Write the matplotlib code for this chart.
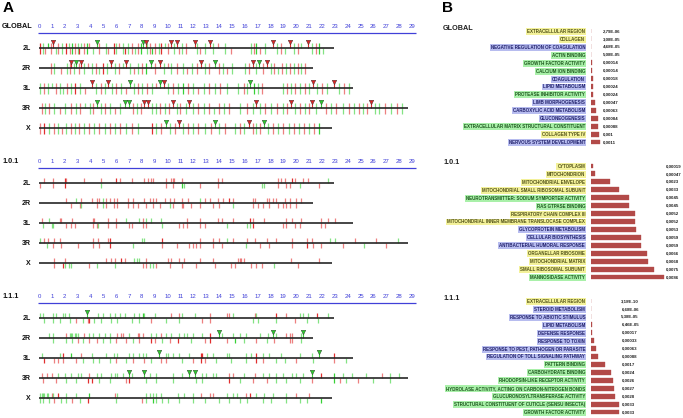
import matplotlib
matplotlib.use('Agg')
import matplotlib.pyplot as plt
from matplotlib.transforms import offset_copy

plt.rcParams['font.family'] = ['Liberation Sans', 'DejaVu Sans']

# ---------------- data ----------------
chromosomes = ['2L', '2R', '3L', '3R', 'X']
chrom_len = [22.9, 21.3, 24.4, 28.7, 22.8]
ruler_ticks = list(range(30))
block_names = ['GLOBAL', '1.0.1', '1.1.1']

# marks: (position Mb, code) ; code[0]: r/R red light/dark, g/G green light/dark
# code[1]: '+' above, '-' below, '|' both, 'v' significant cluster flag
G_2L = [(0.1,'R|'),(0.3,'g|'),(0.5,'r-'),(0.7,'G+'),(0.9,'r|'),(1.1,'Rv'),(1.3,'g-'),(1.5,'r|'),(1.8,'g|'),(2.1,'R|'),(2.3,'g+'),(2.4,'r-'),(2.6,'G|'),(2.8,'r|'),(3.0,'g|'),(3.1,'R-'),(3.3,'g+'),(3.5,'r|'),(3.7,'G|'),(3.9,'r+'),(4.2,'g-'),(4.5,'Gv'),(4.7,'r|'),(5.2,'g|'),(5.4,'r-'),(5.8,'R|'),(6.0,'g|'),(6.2,'r+'),(6.5,'g|'),(6.7,'R-'),(6.9,'g|'),(7.2,'r|'),(7.5,'g-'),(7.7,'r|'),(7.9,'G|'),(8.1,'Gv'),(8.3,'Rv'),(8.4,'g|'),(8.6,'r|'),(8.8,'G-'),(9.0,'r|'),(9.3,'g|'),(9.5,'R|'),(9.8,'g+'),(10.0,'r|'),(10.3,'Rv'),(10.5,'g|'),(10.7,'Rv'),(10.9,'r-'),(11.1,'g|'),(11.4,'r|'),(12.1,'Rv'),(12.3,'g|'),(12.5,'r-'),(12.9,'g|'),(13.3,'Rv'),(13.5,'g|'),(13.9,'r+'),(14.5,'g|'),(14.9,'r-'),(16.5,'g|'),(16.7,'r|'),(16.9,'G|'),(17.2,'r-'),(17.6,'g|'),(18.2,'Rv'),(18.5,'g|'),(18.8,'r|'),(19.1,'g-'),(19.5,'Rv'),(19.8,'g|'),(20.1,'r|'),(20.4,'g+'),(20.9,'Rv'),(21.2,'g|'),(21.5,'r|'),(21.8,'G|'),(22.1,'g-')]
G_2R = [(0.9,'r|'),(1.2,'g|'),(1.7,'r-'),(2.2,'g|'),(2.4,'r|'),(2.5,'Rv'),(2.7,'g|'),(2.9,'Gv'),(3.1,'r|'),(3.3,'Rv'),(3.5,'g|'),(3.8,'r+'),(4.1,'g|'),(4.4,'r|'),(4.7,'g-'),(5.0,'R|'),(5.3,'g|'),(5.6,'Rv'),(5.9,'g|'),(6.2,'r|'),(6.5,'g+'),(6.8,'Rv'),(7.1,'g|'),(7.4,'r-'),(7.7,'g|'),(8.0,'r|'),(8.3,'G|'),(8.7,'Gv'),(9.0,'r|'),(9.4,'Rv'),(9.7,'g|'),(10.0,'r+'),(10.3,'g|'),(10.7,'r|'),(11.2,'g|'),(11.5,'r-'),(11.9,'g|'),(12.3,'r|'),(12.6,'Rv'),(12.9,'g|'),(13.2,'r|'),(13.7,'Gv'),(14.0,'r|'),(14.3,'g|'),(14.6,'r-'),(15.0,'g|'),(16.0,'g|'),(16.3,'r|'),(16.6,'Rv'),(16.9,'g|'),(17.1,'Gv'),(17.4,'r|'),(17.7,'Rv'),(18.0,'g|'),(18.3,'r|'),(18.6,'g-'),(18.9,'r|'),(19.2,'g|'),(19.5,'r|'),(19.8,'g|'),(20.1,'r|'),(20.4,'g|'),(20.7,'r|')]
G_3L = [(0.1,'g|'),(0.4,'r|'),(0.7,'g|'),(1.0,'g+'),(1.3,'r|'),(1.6,'g|'),(1.9,'g-'),(2.2,'r|'),(2.5,'g|'),(2.8,'R|'),(3.2,'g|'),(3.6,'r-'),(4.1,'Rv'),(4.4,'g|'),(4.8,'r|'),(5.1,'g|'),(5.4,'Rv'),(5.7,'g|'),(6.0,'r|'),(6.4,'g|'),(6.8,'r-'),(7.1,'Gv'),(7.4,'g|'),(7.7,'r|'),(8.0,'g|'),(8.4,'r|'),(8.8,'g|'),(9.1,'r+'),(9.4,'Gv'),(9.7,'Rv'),(10.0,'g|'),(10.4,'r|'),(10.8,'g|'),(11.2,'G|'),(11.6,'r|'),(12.0,'g|'),(12.4,'r-'),(12.8,'g|'),(13.2,'r|'),(13.7,'g|'),(14.1,'r|'),(14.6,'g|'),(15.5,'g|'),(15.9,'r|'),(16.2,'g|'),(16.4,'Gv'),(16.7,'G|'),(17.0,'g|'),(17.3,'r|'),(19.0,'g|'),(19.3,'r|'),(19.6,'g|'),(19.9,'r|'),(20.3,'g|'),(20.7,'r|'),(21.0,'g|'),(21.3,'Rv'),(21.6,'g|'),(22.0,'r|'),(22.4,'g|'),(22.9,'Rv'),(23.3,'g|'),(23.7,'r|'),(24.1,'g|')]
G_3R = [(0.2,'r|'),(0.5,'g|'),(0.8,'r|'),(1.2,'g|'),(1.6,'r-'),(2.0,'g|'),(2.5,'r|'),(2.9,'g|'),(3.2,'r|'),(3.6,'g+'),(4.0,'g|'),(4.2,'r|'),(4.5,'Gv'),(4.8,'g|'),(5.1,'r|'),(5.5,'g|'),(5.9,'r-'),(6.3,'g|'),(6.7,'Gv'),(7.0,'Gv'),(7.3,'r|'),(7.6,'g|'),(7.9,'r|'),(8.2,'Rv'),(8.5,'Rv'),(8.8,'g|'),(9.1,'g|'),(9.4,'r|'),(9.8,'g|'),(10.1,'r|'),(10.4,'Rv'),(10.7,'g|'),(11.0,'r|'),(11.4,'g|'),(11.7,'Rv'),(12.0,'g|'),(12.4,'r|'),(12.8,'g|'),(13.2,'r|'),(13.6,'g-'),(14.0,'r|'),(14.4,'g|'),(14.8,'r|'),(15.6,'g|'),(16.2,'r|'),(16.6,'g|'),(16.9,'Rv'),(17.2,'g|'),(17.6,'r|'),(18.0,'g|'),(18.5,'r|'),(19.0,'g|'),(19.3,'r|'),(19.6,'Rv'),(19.9,'g|'),(20.3,'r|'),(20.7,'g|'),(21.0,'r|'),(21.2,'Rv'),(21.5,'g|'),(21.9,'Gv'),(22.3,'r|'),(22.7,'g|'),(23.1,'r|'),(23.6,'g|'),(24.1,'r|'),(24.5,'g|'),(24.9,'r|'),(25.2,'g|'),(25.5,'r|'),(25.8,'Rv'),(26.1,'g|'),(26.4,'g|'),(26.9,'r|'),(27.4,'g|'),(27.8,'r|'),(28.2,'g|')]
G_X = [(0.1,'r|'),(0.4,'R|'),(0.8,'g|'),(1.2,'r|'),(1.5,'g|'),(1.8,'r-'),(2.1,'g|'),(2.5,'r|'),(2.8,'g|'),(3.1,'r|'),(3.5,'g|'),(3.9,'r|'),(4.3,'g|'),(4.7,'r|'),(5.1,'g|'),(5.5,'r|'),(5.9,'g|'),(6.3,'r|'),(6.8,'g|'),(7.2,'r|'),(7.7,'g|'),(8.8,'R|'),(9.1,'g|'),(9.5,'r|'),(9.9,'Gv'),(10.2,'g|'),(10.6,'r|'),(10.9,'Rv'),(11.2,'g|'),(11.6,'r|'),(12.0,'g|'),(12.4,'r|'),(12.9,'g|'),(13.4,'r|'),(13.7,'Gv'),(14.0,'g|'),(14.5,'r|'),(15.2,'g|'),(15.6,'r|'),(15.9,'g|'),(16.3,'Rv'),(16.6,'r|'),(16.9,'g|'),(17.2,'r|'),(17.5,'Gv'),(17.8,'g|'),(18.2,'r|'),(18.6,'g|'),(19.0,'r|'),(19.4,'g|'),(19.8,'r|'),(20.2,'g|'),(20.6,'r|'),(21.0,'g|'),(21.4,'r|'),(21.8,'G|')]

O_2L = [(0.1,'r-'),(0.4,'r+'),(1.1,'r|'),(2.0,'R|'),(2.1,'r+'),(3.5,'r+'),(4.8,'r+'),(4.8,'g-'),(6.0,'R+'),(6.3,'r+'),(7.2,'r+'),(8.2,'r+'),(8.5,'r+'),(8.7,'r+'),(8.9,'r+'),(9.9,'r|'),(10.3,'r+'),(10.4,'r|'),(10.5,'r+'),(11.1,'r+'),(11.1,'G-'),(11.3,'g-'),(12.5,'r-'),(13.9,'r|'),(14.2,'r+'),(17.3,'g-'),(17.5,'g-'),(18.6,'r|'),(18.8,'r+'),(19.1,'r+'),(19.2,'r-'),(19.5,'r-'),(19.7,'R+'),(19.9,'r+'),(20.3,'g-'),(20.5,'r+'),(20.9,'r+'),(21.8,'r-'),(22.5,'g+')]
O_2R = [(2.1,'r+'),(2.5,'r-'),(2.9,'g+'),(3.2,'r-'),(3.3,'r+'),(3.3,'g-'),(4.1,'r+'),(4.5,'r|'),(4.7,'r+'),(5.0,'g|'),(5.2,'r|'),(5.5,'r+'),(5.8,'r|'),(6.1,'r|'),(6.9,'r|'),(7.3,'r|'),(7.7,'r-'),(8.2,'r+'),(8.3,'r-'),(8.6,'r+'),(8.9,'r|'),(9.1,'r+'),(9.4,'r-'),(9.8,'r+'),(10.2,'r+'),(10.2,'g-'),(10.4,'r-'),(10.5,'r+'),(11.1,'r|'),(11.2,'r-'),(11.6,'r+'),(11.8,'r-'),(12.5,'g+'),(12.5,'r-'),(12.9,'r+'),(13.3,'r+'),(13.5,'r-'),(13.9,'r+'),(14.0,'r-'),(14.3,'r+'),(14.8,'R+'),(15.1,'r+'),(15.1,'g-'),(16.6,'r|'),(16.8,'r+'),(17.0,'r-'),(17.4,'r-'),(17.7,'r+'),(17.9,'r|'),(18.2,'r+'),(18.4,'r+'),(18.6,'r-'),(19.0,'r-'),(19.1,'r+'),(19.2,'r-'),(19.5,'r|'),(20.0,'r|'),(20.4,'r+')]
O_3L = [(0.2,'r+'),(0.3,'g-'),(0.8,'g+'),(1.0,'g-'),(1.1,'g-'),(1.6,'r+'),(1.7,'r+'),(2.1,'r-'),(2.5,'r-'),(2.6,'r+'),(2.8,'r-'),(4.2,'r|'),(4.3,'r+'),(4.5,'r-'),(4.6,'g-'),(5.4,'r|'),(6.0,'r|'),(6.8,'g+'),(7.0,'r-'),(7.2,'r-'),(7.8,'g+'),(8.1,'r|'),(8.3,'g+'),(8.3,'r-'),(8.7,'g+'),(9.5,'g+'),(9.6,'g-'),(10.9,'r-'),(11.2,'r-'),(11.5,'r|'),(12.5,'r|'),(12.9,'r-'),(13.9,'r+'),(14.2,'r+'),(14.6,'g-'),(15.1,'r+'),(16.2,'g-'),(16.4,'R+'),(16.4,'g-'),(16.6,'R-'),(16.6,'r+'),(17.5,'r+'),(19.0,'r-'),(19.2,'r|'),(19.7,'r+'),(19.9,'r-'),(20.3,'r-'),(20.4,'r+'),(21.9,'r|'),(22.2,'r-'),(22.5,'r+'),(23.0,'r+')]
O_3R = [(0.05,'g+'),(0.4,'r+'),(0.6,'g-'),(0.7,'r+'),(1.1,'r-'),(1.2,'r+'),(1.6,'r+'),(1.7,'r-'),(3.0,'r-'),(4.2,'r|'),(4.6,'r+'),(4.7,'r-'),(5.4,'r+'),(5.5,'R|'),(7.3,'g-'),(8.0,'g+'),(8.2,'g+'),(9.6,'R+'),(9.6,'r-'),(10.7,'r-'),(11.7,'r-'),(12.0,'r-'),(12.2,'r-'),(12.5,'r|'),(13.5,'r|'),(14.0,'r+'),(14.2,'r-'),(14.6,'g+'),(15.1,'r+'),(16.1,'g-'),(16.2,'r+'),(16.8,'r+'),(17.2,'r-'),(17.7,'r+'),(17.9,'r-'),(18.4,'r+'),(19.7,'r|'),(20.8,'r+'),(20.8,'R-'),(21.2,'r+'),(21.3,'r-'),(21.9,'r-'),(22.6,'g+'),(23.0,'g+'),(23.6,'r-'),(24.6,'r+'),(25.3,'g-'),(26.2,'r+'),(27.0,'r-'),(27.9,'g+')]
O_X = [(1.2,'r|'),(1.9,'R-'),(2.0,'r+'),(2.0,'g-'),(2.3,'g-'),(2.5,'g-'),(3.9,'r-'),(4.5,'g-'),(5.2,'r+'),(5.6,'r+'),(5.9,'r+'),(5.9,'g-'),(6.4,'R+'),(6.7,'r+'),(7.4,'g+'),(7.6,'g+'),(7.8,'g+'),(8.1,'r-'),(8.3,'r|'),(8.6,'g-'),(8.9,'g-'),(9.1,'r-'),(10.0,'r+'),(10.2,'r-'),(10.3,'r+'),(10.9,'r+'),(11.1,'r-'),(11.3,'r+'),(12.2,'r-'),(12.5,'r+'),(13.5,'r+'),(13.7,'r-'),(14.9,'r-'),(15.2,'r-'),(15.5,'r+'),(15.6,'r+'),(15.7,'r+'),(15.9,'r+'),(16.5,'r-'),(16.9,'r-'),(17.3,'r-'),(18.3,'g-'),(19.6,'r+'),(20.1,'r-'),(21.8,'r+')]

T_2L = [(0.05,'g+'),(0.3,'g+'),(0.4,'g-'),(1.1,'g|'),(1.3,'g+'),(1.6,'g-'),(1.9,'g+'),(2.0,'g+'),(2.3,'g+'),(2.4,'g-'),(2.9,'r-'),(3.4,'g-'),(3.7,'Gv'),(3.8,'r-'),(3.9,'R-'),(4.3,'g-'),(4.6,'g+'),(4.8,'g-'),(5.0,'g+'),(5.5,'g+'),(5.6,'g-'),(5.9,'g+'),(6.1,'g-'),(6.3,'g+'),(6.7,'g+'),(7.2,'g-'),(7.4,'g+'),(7.8,'g|'),(8.1,'G+'),(8.2,'g+'),(8.7,'r-'),(9.0,'g+'),(9.9,'g-'),(10.3,'r+'),(10.9,'r+'),(10.9,'g-'),(11.1,'g+'),(12.1,'g+'),(12.7,'r-'),(13.3,'r|'),(14.6,'r+'),(14.8,'r+'),(15.1,'g+'),(16.6,'g-'),(16.8,'r+'),(16.9,'g+'),(17.0,'g-'),(18.4,'R+'),(18.4,'g-'),(19.2,'r+'),(19.9,'r-'),(20.3,'g+'),(20.5,'g+'),(20.8,'g-'),(20.9,'g+'),(21.6,'R+'),(21.7,'g-'),(22.5,'g+')]
T_2R = [(0.8,'g+'),(1.1,'g|'),(2.1,'r+'),(2.1,'g-'),(2.4,'g+'),(2.5,'g+'),(2.6,'g|'),(2.8,'g+'),(2.9,'g+'),(3.0,'g+'),(3.0,'r-'),(3.4,'g-'),(3.5,'r+'),(3.9,'g+'),(3.9,'r-'),(4.2,'g+'),(4.5,'r-'),(4.7,'g+'),(5.0,'g-'),(5.1,'g+'),(5.5,'g|'),(6.0,'r-'),(6.1,'r+'),(6.4,'r+'),(6.5,'r+'),(6.8,'r-'),(7.0,'g+'),(7.3,'g-'),(7.7,'r+'),(7.8,'r|'),(8.1,'r+'),(8.7,'g+'),(8.7,'R-'),(9.0,'r-'),(9.1,'g+'),(9.5,'r+'),(9.6,'g-'),(9.9,'g+'),(10.2,'r-'),(10.3,'g+'),(10.8,'R-'),(10.9,'g+'),(11.3,'g+'),(11.5,'g+'),(11.8,'g-'),(12.0,'g+'),(12.7,'g+'),(12.9,'r-'),(13.3,'R|'),(14.0,'Gv'),(14.2,'g+'),(14.6,'r-'),(15.1,'g+'),(15.2,'G-'),(15.6,'g+'),(15.9,'g-'),(16.1,'g+'),(16.9,'r-'),(17.2,'g+'),(17.7,'g-'),(17.8,'g+'),(18.2,'Gv'),(18.3,'r-'),(18.4,'g+'),(19.2,'r+'),(19.5,'r|'),(19.7,'r|'),(20.4,'g|'),(20.5,'Gv')]
T_3L = [(0.2,'g+'),(0.4,'R-'),(1.2,'r-'),(1.5,'r-'),(1.6,'g+'),(1.9,'R+'),(1.9,'r-'),(2.5,'G+'),(2.9,'r-'),(3.3,'r+'),(3.4,'g-'),(4.1,'g+'),(4.2,'g-'),(4.7,'g-'),(5.2,'g+'),(5.5,'g-'),(5.8,'g+'),(6.0,'r-'),(6.1,'g+'),(6.8,'g-'),(7.0,'g+'),(7.3,'g+'),(7.3,'r-'),(7.8,'g+'),(8.1,'g+'),(8.2,'r-'),(8.3,'g+'),(8.7,'g-'),(9.3,'Gv'),(9.5,'r-'),(9.9,'g+'),(9.9,'r-'),(10.0,'g+'),(10.4,'g+'),(10.9,'g+'),(11.1,'g-'),(11.7,'g+'),(12.0,'r-'),(12.6,'R|'),(12.7,'R+'),(12.9,'r-'),(13.1,'g+'),(13.5,'g+'),(13.8,'g-'),(14.6,'g+'),(14.8,'g+'),(14.9,'g-'),(16.1,'g|'),(16.5,'g+'),(16.9,'R|'),(17.4,'g+'),(17.4,'r-'),(17.9,'g+'),(18.4,'g-'),(18.8,'g+'),(19.1,'g-'),(20.0,'r-'),(20.3,'g+'),(21.2,'g+'),(21.3,'g-'),(21.8,'Gv'),(22.9,'R+'),(22.9,'r-'),(23.9,'g-')]
T_3R = [(0.2,'r+'),(0.3,'r-'),(0.6,'r+'),(1.0,'r+'),(1.3,'r-'),(1.5,'g+'),(2.0,'g+'),(2.1,'g-'),(2.5,'g+'),(2.9,'g-'),(3.0,'g+'),(3.3,'g+'),(3.8,'R-'),(3.9,'r+'),(4.1,'R-'),(4.5,'g+'),(4.7,'g-'),(4.8,'g+'),(5.5,'g-'),(5.6,'g+'),(5.9,'g+'),(6.1,'g+'),(6.5,'g+'),(6.8,'r-'),(7.0,'Gv'),(7.0,'R-'),(7.2,'g+'),(8.2,'Gv'),(8.3,'g-'),(8.6,'g+'),(9.1,'g|'),(10.4,'g|'),(11.1,'g+'),(11.7,'Gv'),(12.1,'Gv'),(12.2,'g-'),(12.7,'g|'),(13.0,'g+'),(13.5,'g+'),(13.8,'g+'),(14.8,'r+'),(14.8,'R-'),(15.1,'r+'),(15.6,'g-'),(15.9,'g+'),(16.6,'r-'),(16.8,'r+'),(17.4,'g+'),(17.7,'r-'),(17.9,'g+'),(18.4,'g|'),(19.0,'g+'),(19.2,'g-'),(19.7,'g+'),(20.0,'g+'),(20.3,'g-'),(20.5,'g+'),(21.2,'Gv'),(21.2,'r-'),(21.9,'R+'),(22.9,'G|'),(23.4,'r-'),(23.6,'g+'),(23.9,'g-'),(24.3,'g+'),(24.8,'r-'),(25.4,'g+'),(26.0,'g-'),(26.7,'r+'),(27.3,'g|'),(28.0,'g+')]
T_X = [(0.05,'g|'),(0.2,'g+'),(0.3,'g|'),(0.4,'g+'),(0.6,'g+'),(0.7,'g+'),(0.8,'g-'),(1.0,'r+'),(1.1,'g+'),(1.2,'r-'),(1.5,'R+'),(1.7,'g-'),(2.1,'g|'),(2.6,'r-'),(2.9,'g+'),(3.2,'g-'),(3.8,'R-'),(3.9,'G+'),(5.9,'r+'),(6.0,'g-'),(6.1,'g+'),(8.0,'r-'),(8.3,'g|'),(8.6,'g+'),(8.9,'g+'),(8.9,'G-'),(9.1,'g|'),(9.5,'g+'),(9.6,'g-'),(10.0,'g-'),(10.8,'g+'),(10.9,'g-'),(11.3,'g+'),(12.0,'g|'),(12.6,'r+'),(12.9,'g-'),(13.3,'r+'),(13.5,'r+'),(14.0,'g-'),(14.6,'g+'),(14.8,'g-'),(15.1,'g+'),(15.4,'g+'),(15.6,'g-'),(16.1,'r+'),(16.2,'g-'),(16.4,'R+'),(16.9,'g+'),(17.4,'g-'),(17.5,'g+'),(18.0,'g-'),(18.2,'g+'),(19.2,'g|'),(20.0,'r+'),(20.3,'g-'),(20.8,'g-'),(21.0,'r+'),(21.9,'G-')]

global_tracks = [G_2L, G_2R, G_3L, G_3R, G_X]
c101_tracks = [O_2L, O_2R, O_3L, O_3R, O_X]
c111_tracks = [T_2L, T_2R, T_3L, T_3R, T_X]

# GO enrichment (panel B); categories: C = component, P = process, F = function
go_global_terms = ['EXTRACELLULAR REGION', 'COLLAGEN', 'NEGATIVE REGULATION OF COAGULATION', 'ACTIN BINDING',
                   'GROWTH FACTOR ACTIVITY', 'CALCIUM ION BINDING', 'COAGULATION', 'LIPID METABOLISM',
                   'PROTEASE INHIBITOR ACTIVITY', 'LIMB MORPHOGENESIS', 'CARBOXYLIC ACID METABOLISM',
                   'GLUCONEOGENESIS', 'EXTRACELLULAR MATRIX STRUCTURAL CONSTITUENT', 'COLLAGEN TYPE IV',
                   'NERVOUS SYSTEM DEVELOPMENT']
go_global_cat = ['C', 'C', 'P', 'F', 'F', 'F', 'P', 'P', 'F', 'P', 'P', 'P', 'F', 'C', 'P']
go_global_p = [2.79e-06, 3.08e-05, 4.68e-05, 5.08e-05, 0.00014, 0.00014, 0.00018, 0.00024, 0.00024,
               0.00047, 0.00063, 0.00084, 0.00088, 0.001, 0.0011]
go_global_txt = ['2,79E-06', '3,08E-05', '4,68E-05', '5,08E-05', '0,00014', '0,00014', '0,00018', '0,00024',
                 '0,00024', '0,00047', '0,00063', '0,00084', '0,00088', '0,001', '0,0011']

go_101_terms = ['CYTOPLASM', 'MITOCHONDRION', 'MITOCHONDRIAL ENVELOPE', 'MITOCHONDRIAL SMALL RIBOSOMAL SUBUNIT',
                'NEUROTRANSMITTER: SODIUM SYMPORTER ACTIVITY', 'RAS GTPASE BINDING', 'RESPIRATORY CHAIN COMPLEX III',
                'MITOCHONDRIAL INNER MEMBRANE TRANSLOCASE COMPLEX', 'GLYCOPROTEIN METABOLISM',
                'CELLULAR BIOSYNTHESIS', 'ANTIBACTERIAL HUMORAL RESPONSE', 'ORGANELLAR RIBOSOME',
                'MITOCHONDRIAL MATRIX', 'SMALL RIBOSOMAL SUBUNIT', 'MANNOSIDASE ACTIVITY']
go_101_cat = ['C', 'C', 'C', 'C', 'F', 'F', 'C', 'C', 'P', 'P', 'P', 'C', 'C', 'C', 'F']
go_101_p = [0.00019, 0.00047, 0.0023, 0.0033, 0.0045, 0.0045, 0.0052, 0.0052, 0.0053, 0.0059, 0.0059,
            0.0066, 0.0068, 0.0075, 0.0086]
go_101_txt = ['0,00019', '0,00047', '0,0023', '0,0033', '0,0045', '0,0045', '0,0052', '0,0052', '0,0053',
              '0,0059', '0,0059', '0,0066', '0,0068', '0,0075', '0,0086']

go_111_terms = ['EXTRACELLULAR REGION', 'STEROID METABOLISM', 'RESPONSE TO ABIOTIC STIMULUS', 'LIPID METABOLISM',
                'DEFENSE RESPONSE', 'RESPONSE TO TOXIN', 'RESPONSE TO PEST, PATHOGEN OR PARASITE',
                'REGULATION OF TOLL SIGNALING PATHWAY', 'PATTERN BINDING', 'CARBOHYDRATE BINDING',
                'RHODOPSIN-LIKE RECEPTOR ACTIVITY', 'HYDROLASE ACTIVITY, ACTING ON CARBON-NITROGEN BONDS',
                'GLUCURONOSYLTRANSFERASE ACTIVITY', 'STRUCTURAL CONSTITUENT OF CUTICLE (SENSU INSECTA)',
                'GROWTH FACTOR ACTIVITY']
go_111_cat = ['C', 'P', 'P', 'P', 'P', 'P', 'P', 'P', 'F', 'F', 'F', 'F', 'F', 'F', 'F']
go_111_p = [3.18e-10, 6.68e-06, 5.38e-05, 6.46e-05, 0.00017, 0.00033, 0.00063, 0.00088, 0.0017, 0.0024,
            0.0026, 0.0027, 0.0028, 0.0033, 0.0033]
go_111_txt = ['3,18E-10', '6,68E-06', '5,38E-05', '6,46E-05', '0,00017', '0,00033', '0,00063', '0,00088',
              '0,0017', '0,0024', '0,0026', '0,0027', '0,0028', '0,0033', '0,0033']

# ---------------- style ----------------
W, H = 683, 418
RED = '#e02424'
GREEN = '#2ccf2c'
BAR = '#b24a48'
RULER = '#4040d8'
BG = {'C': '#f3f19a', 'P': '#b7bcef', 'F': '#a9f0a9'}
TXT = {'C': '#55551a', 'P': '#24246e', 'F': '#1f5a1f'}

fig = plt.figure(figsize=(W / 100, H / 100), dpi=100)


def px_axes(x0, y0, x1, y1):
    return fig.add_axes([x0 / W, 1 - y1 / H, (x1 - x0) / W, (y1 - y0) / H])


# Panel A geometry: 0 Mb at x=39px, 12.862 px per Mb; rows 20px apart
UNIT = 12.862
X0PX = 39.0
row_top = [48.3, 182.8, 317.8]


def draw_block(name, tracks, y2l):
    ax = px_axes(0, y2l - 32, 425, y2l + 92)
    ax.set_xlim((0 - X0PX) / UNIT, (425 - X0PX) / UNIT)
    ax.set_ylim(4.6, -1.6)
    ax.axis('off')
    # ruler
    ax.hlines(-0.76, -0.05, 29.3, color=RULER, lw=0.9)
    for t in ruler_ticks:
        ax.text(t, -1.07, str(t), color=RULER, fontsize=4.3, ha='center', va='center')
    ax.text((2 - X0PX) / UNIT, -1.07, name, fontsize=5.2, fontweight='bold', ha='left', va='center',
            color='#111111')
    for i, (chrom, L, marks) in enumerate(zip(chromosomes, chrom_len, tracks)):
        ax.text((31 - X0PX) / UNIT, i + 0.02, chrom, fontsize=5.0, fontweight='bold', ha='right',
                va='center', color='#111111')
        for pos, code in marks:
            col = RED if code[0] in 'rR' else GREEN
            alpha = 0.95 if code[0].isupper() else 0.58
            side = code[1]
            if side == 'v':
                ax.vlines(pos, i - 0.28, i, color=col, lw=0.8, alpha=0.95, zorder=3)
                ax.plot(pos, i - 0.3, marker='v', ms=3.2, color=col, mec='#553333' if code[0] == 'R' else '#335533',
                        mew=0.4, zorder=4)
            else:
                y0 = i - 0.26 if side in '+|' else i
                y1 = i + 0.27 if side in '-|' else i
                ax.vlines(pos, y0, y1, color=col, lw=0.9, alpha=alpha, zorder=2)
        ax.hlines(i, 0, L, color='#262626', lw=1.2, zorder=5)


draw_block(block_names[0], global_tracks, row_top[0])
draw_block(block_names[1], c101_tracks, row_top[1])
draw_block(block_names[2], c111_tracks, row_top[2])

fig.text(3 / W, 1 - 8.5 / H, 'A', fontsize=11, fontweight='bold', ha='left', va='center')
fig.text(442 / W, 1 - 8.5 / H, 'B', fontsize=11, fontweight='bold', ha='left', va='center')

# Panel B geometry: bars start at x=591px, 8.45 px per 0.001
BAR0 = 591.0
PXPER = 8.45 / 0.001
go_rows = [31.0, 166.0, 301.0]
SP = 111.0 / 14


def draw_go(name, first, terms, cats, vals, texts):
    top = first - SP / 2
    bot = first + 14 * SP + SP / 2
    ax = px_axes(BAR0, top, W, bot)
    ax.set_xlim(0, (W - BAR0) / PXPER)
    ax.set_ylim(len(terms) - 0.5, -0.5)
    ys = list(range(len(terms)))
    ax.barh(ys, vals, height=0.62, color=BAR, edgecolor=BAR, linewidth=0.25)
    ax.set_yticks(ys)
    ax.set_yticklabels(terms, fontsize=3.25, fontweight='bold')
    for lbl, c in zip(ax.get_yticklabels(), cats):
        lbl.set_color(TXT[c])
        lbl.set_bbox(dict(facecolor=BG[c], edgecolor='none', pad=0.7))
    ax.tick_params(axis='y', length=0, pad=4.2)
    ax.set_xticks([])
    for s in ax.spines.values():
        s.set_visible(False)
    ax.patch.set_visible(False)
    tr = offset_copy(ax.transData, fig=fig, x=2.5, y=0, units='dots')
    xm = max(vals)
    for yi, t in zip(ys, texts):
        ax.text(xm, yi, t, transform=tr, fontsize=3.2, fontweight='bold', ha='left', va='center',
                color='#222222')
    fig.text(443 / W, 1 - (first - 3) / H, name, fontsize=5.2, fontweight='bold', ha='left', va='center',
             color='#222222')


draw_go(block_names[0], go_rows[0], go_global_terms, go_global_cat, go_global_p, go_global_txt)
draw_go(block_names[1], go_rows[1], go_101_terms, go_101_cat, go_101_p, go_101_txt)
draw_go(block_names[2], go_rows[2], go_111_terms, go_111_cat, go_111_p, go_111_txt)

fig.savefig('out.png', dpi=100)
